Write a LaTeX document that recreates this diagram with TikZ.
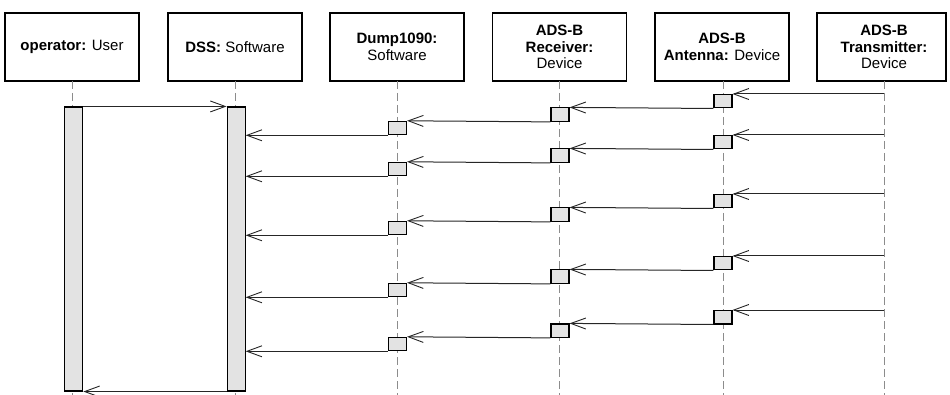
\documentclass[tikz,border=0pt]{standalone}
\usepackage{fontspec}
\setmainfont{Liberation Sans}
\usetikzlibrary{arrows.meta}
\begin{document}
\begin{tikzpicture}[x=1pt,y=-1pt,
  lbox/.style={draw=black, line width=1.3pt, fill=white, minimum width=134pt, minimum height=68pt,
    align=center, font=\fontsize{15}{16.8}\selectfont, inner sep=2pt},
  life/.style={draw=black!45, dash pattern=on 8pt off 4pt, line width=0.9pt},
  actbar/.style={draw=black, line width=1.1pt, fill=black!11, minimum width=18pt, inner sep=0pt},
  actsmall/.style={draw=black, line width=1.1pt, fill=black!11, minimum width=18pt, minimum height=13.4pt, inner sep=0pt},
  msg/.style={draw=black!85, line width=1pt, -{Straight Barb[length=15pt,width=11pt,line width=0.9pt]}},
]
\useasboundingbox (0,0) rectangle (950,395);
% lifeline heads
\node[lbox] (op) at (72,47) {\textbf{operator:} User};
\node[lbox] (dss) at (235,47) {\textbf{DSS:} Software};
\node[lbox] (dump) at (397,47) {\textbf{Dump1090:}\\Software};
\node[lbox] (rcv) at (559.5,47) {\textbf{ADS-B}\\\textbf{Receiver:}\\Device};
\node[lbox] (ant) at (722,47) {\textbf{ADS-B}\\\textbf{Antenna:} Device};
\node[lbox, minimum width=129pt] (trx) at (881.5,47) {\hspace*{5pt}\textbf{ADS-B}\\\hspace*{5pt}\textbf{Transmitter:}\\\hspace*{5pt}Device};
% lifelines
\coordinate (opE) at (72.7,395);
\coordinate (dssE) at (235,395);
\coordinate (dumpE) at (397.5,395);
\coordinate (rcvE) at (559.5,395);
\coordinate (antE) at (723,395);
\coordinate (trxE) at (884,395);
\coordinate (opS) at (72.7,81);
\coordinate (dssS) at (235,81);
\coordinate (dumpS) at (397.5,81);
\coordinate (rcvS) at (559.5,81);
\coordinate (antS) at (723,81);
\coordinate (trxS) at (884,81);
\draw[life] (opS) -- (opE);
\draw[life] (dssS) -- (dssE);
\draw[life] (dumpS) -- (dumpE);
\draw[life] (rcvS) -- (rcvE);
\draw[life] (antS) -- (antE);
\draw[life] (trxS) -- (trxE);
% activation bars
\node[actbar, minimum height=284pt] (opbar) at (73.8,249) {};
\node[actbar, minimum height=284pt] (dssbar) at (236.1,249) {};
\draw[msg] (opbar.north east) -- (dssbar.north west);
\draw[msg] (dssbar.south west) -- (opbar.south east);
% message chains
\foreach \i/\t in {1/94,2/135,3/194,4/256,5/310}{
  \coordinate (s\i) at (884,\t);
  \node[actsmall, anchor=north] (a\i) at (723,\t) {};
  \node[actsmall, anchor=north] (r\i) at (560,\t+13.4) {};
  \node[actsmall, anchor=north] (d\i) at (397.5,\t+26.8) {};
  \draw[msg] (s\i) -- (a\i.north east);
  \draw[msg] (a\i.south west) -- (r\i.north east);
  \draw[msg] (r\i.south west) -- (d\i.north east);
  \draw[msg] (d\i.south west) -- (d\i.south west -| dssbar.east);
}
\end{tikzpicture}
\end{document}
